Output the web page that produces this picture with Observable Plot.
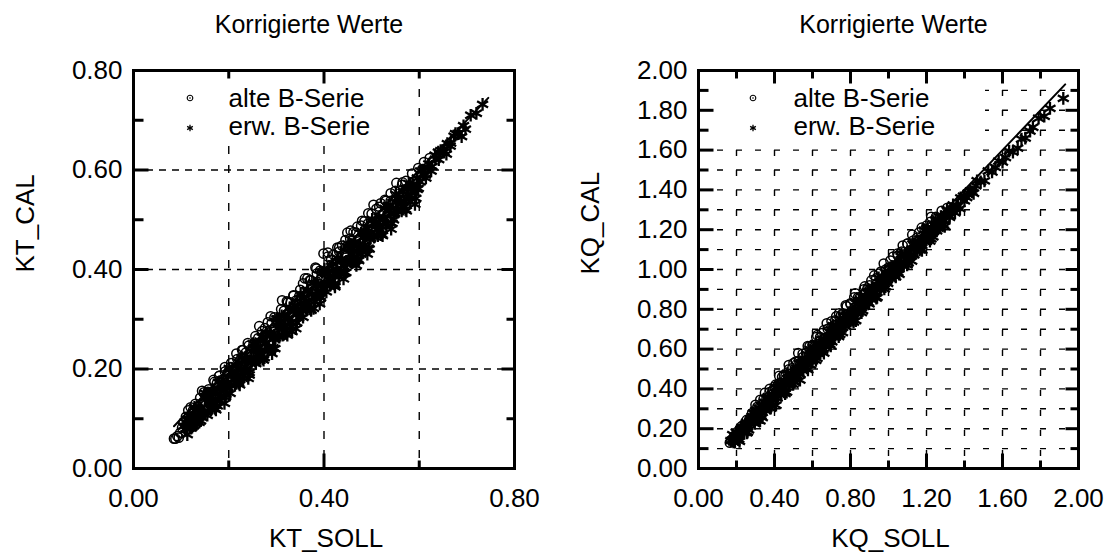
<!DOCTYPE html>
<html><head><meta charset="utf-8">
<script src="https://cdn.jsdelivr.net/npm/d3@7"></script>
<script src="https://cdn.jsdelivr.net/npm/@observablehq/plot@0.6"></script>
<style>
html,body{margin:0;padding:0;background:#fff;}
#wrap{display:flex;width:1117px;height:555px;overflow:hidden;}
#wrap svg{display:block;}
</style></head><body><div id="wrap"></div>
<script>
// ---------- data ----------
const seriesNames = ["alte B-Serie", "erw. B-Serie"];
const panelTitle = "Korrigierte Werte";

// KT panel
const ktAlteSoll = [0.085,0.088,0.092,0.095,0.098,0.102,0.105,0.110,0.115,0.120,0.125,0.130,0.135,0.140,0.148,0.152,0.158,0.163,0.170,0.175,0.180,0.186,0.192,0.198,0.205,0.210,0.218,0.224,0.230,0.236,0.242,0.250,0.256,0.262,0.270,0.276,0.282,0.290,0.296,0.302,0.310,0.316,0.322,0.330,0.336,0.342,0.350,0.356,0.365,0.370,0.382,0.385,0.392,0.399,0.408,0.415,0.428,0.432,0.438,0.445,0.449,0.455,0.462,0.470,0.478,0.485,0.493,0.500,0.510,0.519,0.530,0.540,0.550,0.565,0.572,0.585,0.598,0.610,0.622,
  0.144,0.156,0.168,0.180,0.192,0.204,0.216,0.228,0.240,0.252,0.264,0.276,0.288,0.300,0.312,0.324,0.336,0.348,0.360,0.372,0.384,0.396,0.408,0.420,0.432,0.444,0.456,0.468,0.480,0.492,0.504,0.516,0.528,0.540,0.552,0.564];
const ktAlteCal  = [0.060,0.060,0.065,0.062,0.072,0.082,0.093,0.104,0.117,0.123,0.117,0.130,0.125,0.142,0.153,0.146,0.159,0.154,0.174,0.171,0.186,0.178,0.195,0.193,0.212,0.200,0.220,0.218,0.238,0.233,0.247,0.242,0.266,0.262,0.276,0.269,0.294,0.292,0.304,0.297,0.320,0.317,0.336,0.334,0.347,0.338,0.359,0.372,0.382,0.378,0.404,0.392,0.398,0.432,0.426,0.420,0.444,0.436,0.448,0.459,0.474,0.462,0.475,0.486,0.488,0.497,0.513,0.512,0.522,0.533,0.538,0.553,0.558,0.575,0.578,0.593,0.604,0.616,0.624,
  0.156,0.154,0.178,0.186,0.204,0.204,0.231,0.238,0.252,0.250,0.286,0.282,0.306,0.300,0.338,0.334,0.348,0.346,0.382,0.378,0.402,0.396,0.434,0.430,0.444,0.442,0.478,0.474,0.498,0.492,0.530,0.526,0.540,0.538,0.574,0.570];
const ktErwSoll = [0.105,0.110,0.114,0.118,0.122,0.126,0.130,0.134,0.138,0.142,0.146,0.150,0.155,0.159,0.163,0.167,0.172,0.176,0.180,0.185,0.189,0.194,0.198,0.203,0.207,0.212,0.216,0.221,0.225,0.230,0.234,0.239,0.243,0.248,0.252,0.257,0.261,0.266,0.270,0.275,0.279,0.284,0.288,0.293,0.297,0.302,0.306,0.311,0.315,0.320,0.324,0.329,0.333,0.338,0.342,0.347,0.351,0.356,0.360,0.365,0.369,0.374,0.378,0.383,0.387,0.392,0.396,0.401,0.405,0.410,0.414,0.419,0.423,0.428,0.432,0.437,0.441,0.446,0.450,0.455,0.459,0.464,0.468,0.473,0.477,0.482,0.486,0.491,0.495,0.500,0.505,0.510,0.515,0.520,0.525,0.530,0.535,0.540,0.546,0.551,0.556,0.562,0.567,0.573,0.578,0.584,0.590,0.596,0.602,0.608,0.614,0.620,0.627,0.634,0.640,0.645,0.652,0.659,0.666,0.676,0.684,0.693,0.708,0.720,0.733,
  0.108,0.113,0.118,0.123,0.128,0.133,0.138,0.143,0.148,0.153,0.158,0.163,0.168,0.173,0.178,0.183,0.188,0.193,0.198,0.203,0.208,0.213,0.218,0.223,0.228,0.233,0.238,0.243,0.248,0.253,0.258,0.263,0.268,0.273,0.278,0.283,0.288,0.293,0.298,0.303,0.308,0.313,0.318,0.323,0.328,0.333,0.338,0.343,0.348,0.353,0.358,0.363,0.368,0.373,0.378,0.383,0.388,0.393,0.398,0.403,0.408,0.413,0.418,0.423,0.428,0.433,0.438,0.443,0.448,0.453,0.458,0.463,0.468,0.473,0.478,0.483,0.488,0.493,0.498,0.503,0.508,0.513,0.518,0.523,0.528,0.533,0.538,0.543,0.548,0.553,0.558,0.563,0.568,0.573,0.578,0.583,0.588,0.593,0.598,0.603,0.608,0.613,0.618,0.625,0.633,0.641,0.649,0.657,0.665,0.673,0.681,0.689,0.697,
  0.111,0.116,0.121,0.126,0.131,0.136,0.141,0.146,0.151,0.156,0.161,0.166,0.171,0.176,0.181,0.186,0.191,0.196,0.201,0.206,0.211,0.216,0.221,0.226,0.231,0.236,0.241,0.246,0.251,0.256,0.261,0.266,0.271,0.276,0.281,0.286,0.291,0.296,0.301,0.306,0.311,0.316,0.321,0.326,0.331,0.336,0.341,0.346,0.351,0.356,0.361,0.366,0.371,0.376,0.381,0.386,0.391,0.396,0.401,0.406,0.411,0.416,0.421,0.426,0.431,0.436,0.441,0.446,0.451,0.456,0.461,0.466,0.471,0.476,0.481,0.486,0.491,0.496,0.501,0.506,0.511,0.516,0.521,0.526,0.531,0.536,0.541,0.546,0.551,0.556,0.561,0.566,0.571,0.576,0.581,0.586,0.591,0.596];
const ktErwCal  = [0.085,0.080,0.099,0.083,0.100,0.086,0.118,0.104,0.093,0.122,0.110,0.142,0.107,0.134,0.123,0.153,0.140,0.126,0.160,0.147,0.179,0.149,0.172,0.151,0.191,0.178,0.172,0.213,0.197,0.180,0.216,0.201,0.188,0.236,0.222,0.211,0.241,0.230,0.264,0.223,0.253,0.244,0.274,0.261,0.241,0.282,0.264,0.307,0.287,0.272,0.308,0.293,0.275,0.328,0.312,0.303,0.331,0.304,0.326,0.359,0.329,0.350,0.322,0.369,0.355,0.346,0.394,0.375,0.355,0.392,0.376,0.411,0.365,0.398,0.388,0.421,0.407,0.394,0.446,0.431,0.417,0.452,0.408,0.443,0.431,0.464,0.450,0.483,0.441,0.474,0.465,0.496,0.483,0.470,0.505,0.492,0.529,0.512,0.500,0.535,0.522,0.538,0.525,0.563,0.548,0.564,0.554,0.584,0.576,0.592,0.584,0.612,0.607,0.622,0.636,0.639,0.636,0.653,0.654,0.673,0.674,0.689,0.710,0.714,0.732,
  0.093,0.068,0.088,0.083,0.123,0.093,0.118,0.103,0.113,0.143,0.143,0.118,0.138,0.118,0.173,0.143,0.168,0.143,0.163,0.193,0.193,0.168,0.188,0.168,0.223,0.193,0.218,0.193,0.213,0.243,0.243,0.218,0.238,0.218,0.273,0.243,0.268,0.243,0.263,0.293,0.293,0.268,0.288,0.268,0.323,0.293,0.318,0.293,0.313,0.343,0.343,0.318,0.338,0.318,0.373,0.343,0.368,0.343,0.363,0.393,0.393,0.368,0.388,0.368,0.423,0.393,0.418,0.393,0.413,0.443,0.443,0.418,0.438,0.418,0.473,0.443,0.468,0.443,0.463,0.493,0.493,0.468,0.488,0.468,0.523,0.493,0.518,0.493,0.513,0.543,0.543,0.518,0.538,0.518,0.573,0.543,0.568,0.543,0.563,0.598,0.600,0.590,0.603,0.598,0.630,0.621,0.639,0.632,0.648,0.668,0.673,0.667,0.682,
  0.081,0.106,0.081,0.101,0.091,0.121,0.096,0.111,0.151,0.116,0.131,0.156,0.121,0.151,0.136,0.171,0.131,0.161,0.201,0.166,0.181,0.206,0.171,0.201,0.186,0.221,0.181,0.211,0.251,0.216,0.231,0.256,0.221,0.251,0.236,0.271,0.231,0.261,0.301,0.266,0.281,0.306,0.271,0.301,0.286,0.321,0.281,0.311,0.351,0.316,0.331,0.356,0.321,0.351,0.336,0.371,0.331,0.361,0.401,0.366,0.381,0.406,0.371,0.401,0.386,0.421,0.381,0.411,0.451,0.416,0.431,0.456,0.421,0.451,0.436,0.471,0.431,0.461,0.501,0.466,0.481,0.506,0.471,0.501,0.486,0.521,0.481,0.511,0.551,0.516,0.531,0.556,0.521,0.551,0.536,0.571,0.531,0.561];
const ktLineSoll = [0.085, 0.745];
const ktLineCal  = [0.085, 0.745];

// KQ panel
const kqAlteSoll = [0.165,0.172,0.180,0.188,0.196,0.206,0.216,0.228,0.240,0.254,0.268,0.282,0.296,0.310,0.326,0.342,0.358,0.374,0.390,0.406,0.422,0.440,0.458,0.476,0.494,0.512,0.530,0.548,0.566,0.584,0.602,0.620,0.640,0.660,0.680,0.700,0.720,0.740,0.760,0.780,0.800,0.820,0.840,0.870,0.890,0.910,0.935,0.960,0.985,1.010,1.047,1.070,1.100,1.130,1.160,1.190,1.220,1.250,1.280,1.310,
  0.300,0.325,0.350,0.375,0.400,0.425,0.450,0.475,0.500,0.525,0.550,0.575,0.600,0.625,0.650,0.675,0.700,0.725,0.750,0.775,0.800,0.825,0.850,0.875,0.900,0.925,0.950,0.975,1.000,1.025,1.050,1.075,1.100,1.125,1.150,1.175,1.200,1.225,1.250];
const kqAlteCal  = [0.130,0.142,0.140,0.163,0.161,0.186,0.186,0.213,0.215,0.244,0.248,0.277,0.281,0.310,0.316,0.347,0.353,0.384,0.390,0.421,0.427,0.460,0.466,0.498,0.504,0.537,0.542,0.576,0.581,0.614,0.620,0.660,0.660,0.695,0.702,0.740,0.745,0.780,0.780,0.815,0.825,0.860,0.860,0.900,0.905,0.945,0.955,0.990,1.000,1.045,1.080,1.090,1.130,1.145,1.185,1.200,1.240,1.255,1.295,1.310,
  0.320,0.345,0.380,0.400,0.410,0.465,0.470,0.520,0.530,0.580,0.560,0.615,0.620,0.670,0.680,0.730,0.710,0.765,0.770,0.820,0.830,0.880,0.860,0.915,0.920,0.970,0.980,1.030,1.010,1.065,1.070,1.120,1.130,1.175,1.160,1.210,1.220,1.265,1.265];
const kqErwSoll = [0.170,0.184,0.198,0.212,0.226,0.240,0.254,0.268,0.282,0.296,0.310,0.324,0.338,0.352,0.366,0.380,0.394,0.408,0.422,0.436,0.450,0.464,0.478,0.492,0.506,0.520,0.534,0.548,0.562,0.576,0.590,0.604,0.618,0.632,0.646,0.660,0.674,0.688,0.702,0.716,0.730,0.744,0.758,0.772,0.786,0.800,0.814,0.828,0.842,0.856,0.870,0.884,0.898,0.912,0.926,0.940,0.954,0.968,0.982,0.996,1.010,1.024,1.038,1.052,1.066,1.080,1.094,1.108,1.122,1.136,1.150,1.164,1.178,1.192,1.206,1.220,1.234,1.248,1.262,1.276,1.290,1.305,1.322,1.340,1.358,1.376,1.394,1.412,1.430,1.448,1.466,1.485,1.505,1.525,1.545,1.563,1.580,1.600,1.616,1.635,1.655,1.680,1.700,1.720,1.745,1.760,1.790,1.820,1.850,1.920,
  0.180,0.192,0.204,0.216,0.228,0.240,0.252,0.264,0.276,0.288,0.300,0.312,0.324,0.336,0.348,0.360,0.372,0.384,0.396,0.408,0.420,0.432,0.444,0.456,0.468,0.480,0.492,0.504,0.516,0.528,0.540,0.552,0.564,0.576,0.588,0.600,0.612,0.624,0.636,0.648,0.660,0.672,0.684,0.696,0.708,0.720,0.732,0.744,0.756,0.768,0.780,0.792,0.804,0.816,0.828,0.840,0.852,0.864,0.876,0.888,0.900,0.912,0.924,0.936,0.948,0.960,0.972,0.984,0.996,1.008,1.020,1.032,1.044,1.056,1.068,1.080,1.092,1.104,1.116,1.128,1.140,1.152,1.164,1.176,1.188,1.200,1.212,1.224,1.236,1.248,1.260,1.272,1.284,1.296,1.308,1.320,1.335,1.350,1.365,1.380,1.400,1.420,1.440,1.460,
  0.186,0.198,0.210,0.222,0.234,0.246,0.258,0.270,0.282,0.294,0.306,0.318,0.330,0.342,0.354,0.366,0.378,0.390,0.402,0.414,0.426,0.438,0.450,0.462,0.474,0.486,0.498,0.510,0.522,0.534,0.546,0.558,0.570,0.582,0.594,0.606,0.618,0.630,0.642,0.654,0.666,0.678,0.690,0.702,0.714,0.726,0.738,0.750,0.762,0.774,0.786,0.798,0.810,0.822,0.834,0.846,0.858,0.870,0.882,0.894,0.906,0.918,0.930,0.942,0.954,0.966,0.978,0.990,1.002,1.014,1.026,1.038,1.050,1.062,1.074,1.086,1.098,1.110,1.122,1.134,1.146,1.158,1.170,1.182,1.194,1.206,1.218,1.230,1.242,1.254,1.266,1.278,1.290];
const kqErwCal  = [0.140,0.134,0.163,0.147,0.201,0.185,0.179,0.228,0.262,0.226,0.265,0.239,0.308,0.292,0.351,0.305,0.354,0.318,0.397,0.376,0.440,0.384,0.433,0.472,0.436,0.485,0.444,0.533,0.512,0.571,0.520,0.574,0.628,0.577,0.626,0.580,0.634,0.688,0.637,0.691,0.680,0.749,0.683,0.737,0.776,0.740,0.794,0.743,0.797,0.866,0.815,0.859,0.828,0.907,0.886,0.860,0.939,0.918,0.987,0.931,0.980,1.014,0.963,1.012,1.066,1.020,1.074,1.063,1.042,1.126,1.115,1.099,1.158,1.142,1.211,1.180,1.164,1.223,1.207,1.266,1.245,1.275,1.262,1.325,1.313,1.306,1.369,1.362,1.395,1.383,1.446,1.440,1.445,1.495,1.490,1.513,1.545,1.540,1.563,1.595,1.590,1.610,1.655,1.660,1.695,1.715,1.760,1.770,1.810,1.860,
  0.170,0.132,0.169,0.136,0.208,0.190,0.232,0.194,0.231,0.278,0.290,0.252,0.289,0.256,0.333,0.310,0.352,0.314,0.351,0.408,0.410,0.372,0.409,0.376,0.478,0.430,0.472,0.434,0.471,0.528,0.530,0.492,0.529,0.496,0.598,0.550,0.592,0.554,0.591,0.648,0.650,0.612,0.649,0.616,0.718,0.670,0.712,0.674,0.711,0.768,0.770,0.732,0.769,0.736,0.838,0.790,0.832,0.794,0.831,0.888,0.890,0.852,0.889,0.856,0.958,0.910,0.952,0.914,0.951,1.008,1.010,0.972,1.009,0.976,1.078,1.030,1.072,1.034,1.071,1.128,1.130,1.092,1.129,1.096,1.198,1.150,1.192,1.154,1.191,1.248,1.250,1.212,1.249,1.216,1.298,1.270,1.305,1.285,1.320,1.360,1.345,1.385,1.390,1.420,
  0.146,0.183,0.145,0.192,0.179,0.221,0.183,0.225,0.262,0.234,0.266,0.303,0.265,0.312,0.299,0.361,0.303,0.345,0.382,0.354,0.386,0.423,0.385,0.432,0.419,0.481,0.423,0.465,0.502,0.474,0.506,0.543,0.505,0.552,0.539,0.601,0.543,0.585,0.622,0.594,0.626,0.663,0.625,0.672,0.659,0.721,0.663,0.705,0.742,0.714,0.746,0.783,0.745,0.792,0.779,0.841,0.783,0.825,0.862,0.834,0.866,0.903,0.865,0.912,0.899,0.961,0.903,0.945,0.982,0.954,0.986,1.023,0.985,1.032,1.019,1.081,1.023,1.065,1.102,1.074,1.106,1.143,1.105,1.152,1.139,1.201,1.143,1.185,1.222,1.194,1.226,1.263,1.225];
const kqLineSoll = [0.15, 1.93];
const kqLineCal  = [0.15, 1.93];

// axes / ticks
const ktXLabels = [0, 0.4, 0.8];
const ktXMajor = [0.4];
const ktXMinor = [0.2, 0.6];
const ktYLabels = [0, 0.2, 0.4, 0.6, 0.8];
const ktYMajor = [0.2, 0.4, 0.6];
const ktYMinor = [0.1, 0.3, 0.5, 0.7];
const ktGridX = [0.2, 0.4, 0.6];
const ktGridY = [0.2, 0.4, 0.6];

const kqXLabels = [0, 0.4, 0.8, 1.2, 1.6, 2.0];
const kqXMajor = [0.4, 0.8, 1.2, 1.6];
const kqXMinor = [0.2, 0.6, 1.0, 1.4, 1.8];
const kqYLabels = [0, 0.2, 0.4, 0.6, 0.8, 1.0, 1.2, 1.4, 1.6, 1.8, 2.0];
const kqYMajor = [0.2, 0.4, 0.6, 0.8, 1.0, 1.2, 1.4, 1.6, 1.8];
const kqYMinor = [0.1, 0.3, 0.5, 0.7, 0.9, 1.1, 1.3, 1.5, 1.7, 1.9];
const kqGridX = [0.2, 0.4, 0.6, 0.8, 1.0, 1.2, 1.4, 1.6, 1.8];
const kqGridY = [0.1, 0.2, 0.3, 0.4, 0.5, 0.6, 0.7, 0.8, 0.9, 1.0, 1.1, 1.2, 1.3, 1.4, 1.5, 1.6, 1.7, 1.8, 1.9];

// ---------- drawing ----------
const FONT = "'Liberation Sans', Arial, Helvetica, sans-serif";
const fmt = d3.format(".2f");

function panel(p) {
  const mT = 70, mB = 87, H = 555;
  const left = p.mL, right = p.width - p.mR, top = mT, bottom = H - mB;
  const [xa, xb] = p.xDomain, [ya, yb] = p.yDomain;
  const xpp = (xb - xa) / (right - left);   // data units per pixel
  const ypp = (yb - ya) / (bottom - top);
  // inward tick segments built from the tick arrays
  const segs = [];
  const addX = (vals, lb, lt) => vals.forEach(v => {
    segs.push({sx1: v, sy1: ya, sx2: v, sy2: ya + lb * ypp});
    segs.push({sx1: v, sy1: yb, sx2: v, sy2: yb - lt * ypp});
  });
  const addY = (vals, ll, lr) => vals.forEach(v => {
    segs.push({sx1: xa, sy1: v, sx2: xa + ll * xpp, sy2: v});
    segs.push({sx1: xb, sy1: v, sx2: xb - lr * xpp, sy2: v});
  });
  addX(p.xMajor, 15, 13); addX(p.xMinor, 8, 8);
  addY(p.yMajor, 15, 13); addY(p.yMinor, 10, 8);

  const legend = () => {
    const g = d3.create("svg:g");
    g.append("rect").attr("x", left + 2).attr("y", top + 2).attr("width", p.boxW).attr("height", 73).attr("fill", "#fff");
    const c = g.append("g").attr("transform", `translate(${left + p.symDx},${top + 28})`);
    c.append("circle").attr("r", 2.8).attr("fill", "none").attr("stroke", "#000").attr("stroke-width", 1.1);
    c.append("circle").attr("r", 0.8).attr("fill", "#000");
    g.append("path").attr("d", d3.symbol(d3.symbolAsterisk, 30)())
      .attr("transform", `translate(${left + p.symDx},${top + 58})`)
      .attr("fill", "none").attr("stroke", "#000").attr("stroke-width", 1.3);
    return g.node();
  };
  return Plot.plot({
    width: p.width, height: H,
    marginLeft: p.mL, marginRight: p.mR, marginTop: mT, marginBottom: mB,
    x: {domain: p.xDomain},
    y: {domain: p.yDomain},
    style: {fontFamily: FONT, fontSize: "26px", background: "#fff", color: "#000", overflow: "visible"},
    marks: [
      Plot.gridX(p.gridX, {stroke: "#000", strokeOpacity: 1, strokeWidth: 1.4, strokeDasharray: p.dashX}),
      Plot.gridY(p.gridY, {stroke: "#000", strokeOpacity: 1, strokeWidth: 1.4, strokeDasharray: p.dashY}),
      Plot.dot(p.alteX, {x: p.alteX, y: p.alteY, symbol: "circle", r: 4.6, stroke: "#000", fill: "none", strokeWidth: 1.5}),
      Plot.dot(p.erwX, {x: p.erwX, y: p.erwY, symbol: "asterisk", r: 6, stroke: "#000", strokeWidth: 2.3}),
      Plot.line(p.lineX, {x: p.lineX, y: p.lineY, stroke: "#000", strokeWidth: 2}),
      legend,
      Plot.text([seriesNames[0]], {frameAnchor: "top-left", dx: 95, dy: 36, lineAnchor: "bottom", textAnchor: "start", fontSize: 26, fontFamily: FONT}),
      Plot.text([seriesNames[1]], {frameAnchor: "top-left", dx: 95, dy: 64, lineAnchor: "bottom", textAnchor: "start", fontSize: 26, fontFamily: FONT}),
      Plot.frame({stroke: "#000", strokeWidth: 3}),
      Plot.axisX(p.xLabels, {anchor: "bottom", tickSize: 0, tickPadding: 20, tickFormat: fmt, label: null, fontSize: 26, fontFamily: FONT}),
      Plot.axisY(p.yLabels, {anchor: "left", tickSize: 0, tickPadding: 11, tickFormat: fmt, label: null, fontSize: 26, fontFamily: FONT}),
      Plot.text([panelTitle], {frameAnchor: "top", dx: p.titleDx, dy: -38, lineAnchor: "bottom", fontSize: 25, fontFamily: FONT}),
      Plot.text([p.xTitle], {frameAnchor: "bottom", dx: 2, dy: 78.5, lineAnchor: "bottom", fontSize: 26, fontFamily: FONT}),
      Plot.text([p.yTitle], {frameAnchor: "left", dx: -100, dy: p.yTitleDy, rotate: -90, lineAnchor: "bottom", fontSize: 26, fontFamily: FONT}),
      Plot.link(segs, {x1: "sx1", y1: "sy1", x2: "sx2", y2: "sy2", stroke: "#000", strokeWidth: 3, strokeLinecap: "butt"})
    ]
  });
}

const wrap = document.getElementById("wrap");
wrap.append(panel({
  width: 558, mL: 133, mR: 44,
  xDomain: [0, 0.8], yDomain: [0, 0.8],
  gridX: ktGridX, gridY: ktGridY, dashX: "8,11", dashY: "7,6",
  alteX: ktAlteSoll, alteY: ktAlteCal, erwX: ktErwSoll, erwY: ktErwCal,
  lineX: ktLineSoll, lineY: ktLineCal,
  xLabels: ktXLabels, xMajor: ktXMajor, xMinor: ktXMinor,
  yLabels: ktYLabels, yMajor: ktYMajor, yMinor: ktYMinor,
  boxW: 240, symDx: 57, titleDx: -15,
  xTitle: "KT_SOLL", yTitle: "KT_CAL", yTitleDy: 3
}));
wrap.append(panel({
  width: 559, mL: 140, mR: 39,
  xDomain: [0, 2], yDomain: [0, 2],
  gridX: kqGridX, gridY: kqGridY, dashX: "6,14", dashY: "6,13",
  alteX: kqAlteSoll, alteY: kqAlteCal, erwX: kqErwSoll, erwY: kqErwCal,
  lineX: kqLineSoll, lineY: kqLineCal,
  xLabels: kqXLabels, xMajor: kqXMajor, xMinor: kqXMinor,
  yLabels: kqYLabels, yMajor: kqYMajor, yMinor: kqYMinor,
  boxW: 285, symDx: 55, titleDx: 5,
  xTitle: "KQ_SOLL", yTitle: "KQ_CAL", yTitleDy: 5
}));
</script></body></html>
